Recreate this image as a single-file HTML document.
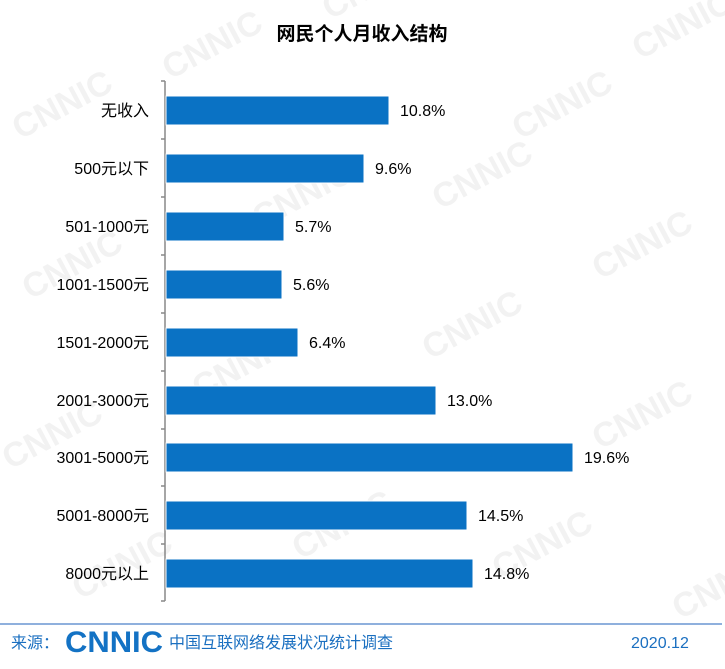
<!DOCTYPE html>
<html><head><meta charset="utf-8"><style>
body{margin:0;width:725px;height:669px;background:#fff;overflow:hidden;position:relative;font-family:"Liberation Sans","Noto Sans CJK SC",sans-serif}
</style></head><body>
<svg width="725" height="669" style="position:absolute;left:0;top:0" font-family="Liberation Sans, Noto Sans CJK SC, sans-serif">
<g fill="#f2f2f2" font-weight="bold" font-size="34" font-family="Liberation Sans, sans-serif">
<text transform="translate(20,140) rotate(-28)">CNNIC</text>
<text transform="translate(170,80) rotate(-28)">CNNIC</text>
<text transform="translate(330,20) rotate(-28)">CNNIC</text>
<text transform="translate(520,140) rotate(-28)">CNNIC</text>
<text transform="translate(640,60) rotate(-28)">CNNIC</text>
<text transform="translate(30,300) rotate(-28)">CNNIC</text>
<text transform="translate(260,230) rotate(-28)">CNNIC</text>
<text transform="translate(440,210) rotate(-28)">CNNIC</text>
<text transform="translate(600,280) rotate(-28)">CNNIC</text>
<text transform="translate(10,470) rotate(-28)">CNNIC</text>
<text transform="translate(200,400) rotate(-28)">CNNIC</text>
<text transform="translate(430,360) rotate(-28)">CNNIC</text>
<text transform="translate(600,450) rotate(-28)">CNNIC</text>
<text transform="translate(80,600) rotate(-28)">CNNIC</text>
<text transform="translate(300,560) rotate(-28)">CNNIC</text>
<text transform="translate(500,580) rotate(-28)">CNNIC</text>
<text transform="translate(680,620) rotate(-28)">CNNIC</text>
</g>
<text x="362" y="40" text-anchor="middle" font-size="19" font-weight="bold" fill="#000">网民个人月收入结构</text>
<line x1="165" y1="81" x2="165" y2="601" stroke="#888" stroke-width="1.5"/>
<g stroke="#888" stroke-width="1.5">
<line x1="161" y1="81" x2="165" y2="81"/><line x1="161" y1="139" x2="165" y2="139"/><line x1="161" y1="197" x2="165" y2="197"/><line x1="161" y1="255" x2="165" y2="255"/><line x1="161" y1="313" x2="165" y2="313"/><line x1="161" y1="371" x2="165" y2="371"/><line x1="161" y1="429" x2="165" y2="429"/><line x1="161" y1="486" x2="165" y2="486"/><line x1="161" y1="544" x2="165" y2="544"/><line x1="161" y1="601" x2="165" y2="601"/>
</g>
<g fill="#0a72c4" stroke="#fff" stroke-width="1">
<rect x="166" y="96" width="223" height="29"/>
<rect x="166" y="154" width="198" height="29"/>
<rect x="166" y="212" width="118" height="29"/>
<rect x="166" y="270" width="116" height="29"/>
<rect x="166" y="328" width="132" height="29"/>
<rect x="166" y="386" width="270" height="29"/>
<rect x="166" y="443" width="407" height="29"/>
<rect x="166" y="501" width="301" height="29"/>
<rect x="166" y="559" width="307" height="29"/>
</g>
<g font-size="16" fill="#000">
<g text-anchor="end">
<text x="149" y="116">无收入</text>
<text x="149" y="174">500元以下</text>
<text x="149" y="232">501-1000元</text>
<text x="149" y="290">1001-1500元</text>
<text x="149" y="348">1501-2000元</text>
<text x="149" y="406">2001-3000元</text>
<text x="149" y="463">3001-5000元</text>
<text x="149" y="521">5001-8000元</text>
<text x="149" y="579">8000元以上</text>
</g>
<text x="400" y="116">10.8%</text>
<text x="375" y="174">9.6%</text>
<text x="295" y="232">5.7%</text>
<text x="293" y="290">5.6%</text>
<text x="309" y="348">6.4%</text>
<text x="447" y="406">13.0%</text>
<text x="584" y="463">19.6%</text>
<text x="478" y="521">14.5%</text>
<text x="484" y="579">14.8%</text>
</g>
<line x1="0" y1="624" x2="722" y2="624" stroke="#8fb0dd" stroke-width="2"/>
<text x="11" y="648" font-size="16" fill="#1a6fc0">来源：</text>
<text x="65" y="652" font-size="30" font-weight="bold" fill="#1372c4" textLength="98" lengthAdjust="spacingAndGlyphs">CNNIC</text>
<text x="169" y="648" font-size="16" fill="#1a6fc0" textLength="224" lengthAdjust="spacingAndGlyphs">中国互联网络发展状况统计调查</text>
<text x="631" y="648" font-size="16" fill="#1a6fc0">2020.12</text>
</svg>
</body></html>
